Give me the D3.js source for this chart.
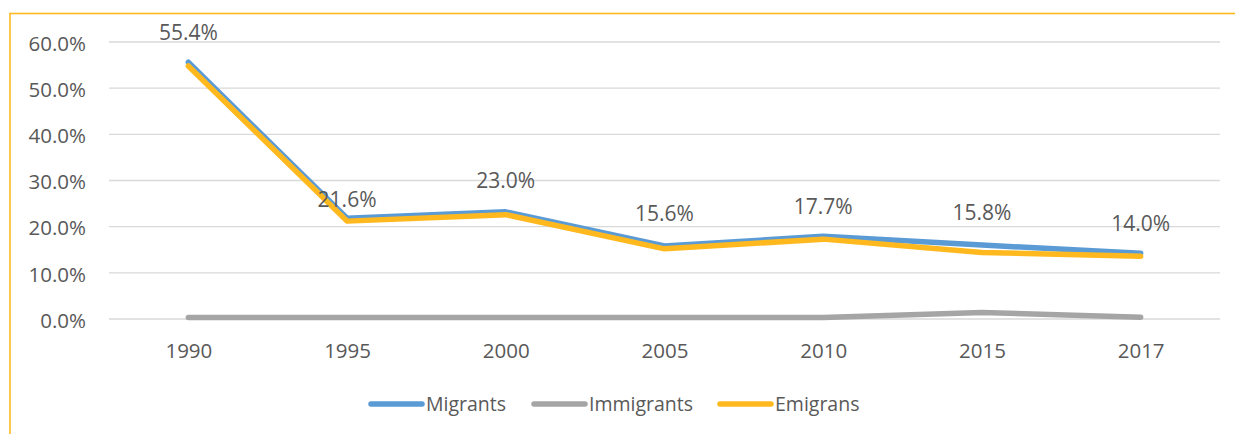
<!DOCTYPE html>
<html><head><meta charset="utf-8">
<script src="https://cdn.jsdelivr.net/npm/d3@7"></script>
<style>
html,body{margin:0;padding:0;background:#fff;overflow:hidden}
svg{display:block}
text{font-family:"Open Sans",sans-serif;fill:#595959}
</style></head>
<body><svg id="c" width="1235" height="434"></svg>
<script>
const years = ["1990","1995","2000","2005","2010","2015","2017"];
const migrants = [55.4, 21.6, 23.0, 15.6, 17.7, 15.8, 14.0];
const immigrants = [0.3, 0.3, 0.3, 0.3, 0.3, 1.4, 0.4];
const emigrans = [54.8, 21.2, 22.6, 15.2, 17.3, 14.4, 13.6];
const yTicks = [0, 10, 20, 30, 40, 50, 60];
const seriesNames = ["Migrants", "Immigrants", "Emigrans"];

const colors = {Migrants:"#5B9BD5", Immigrants:"#A5A5A5", Emigrans:"#FFB91F"};
const svg = d3.select("#c");

// outer border (chart area, cropped)
svg.append("rect").attr("x",10).attr("y",13.5).attr("width",1400).attr("height",600)
  .attr("fill","none").attr("stroke","#FFB91F").attr("stroke-width",1.6);

const x = d3.scalePoint().domain(years).range([109,1220]).padding(0.5);
const y = d3.scaleLinear().domain([0,60]).range([319,42]);

// gridlines
svg.append("g").selectAll("line").data(yTicks).join("line")
  .attr("x1",109).attr("x2",1220).attr("y1",d=>y(d)).attr("y2",d=>y(d))
  .attr("stroke","#D9D9D9").attr("stroke-width",1.3);

// y axis
const yAxis = d3.axisLeft(y).tickValues(yTicks).tickSize(0).tickPadding(0)
  .tickFormat(d=>d.toFixed(1)+"%");
const gy = svg.append("g").attr("transform","translate(86,1)").call(yAxis);
gy.select(".domain").remove();
gy.selectAll("text").attr("font-size",20.5).attr("font-family","Open Sans").attr("fill","#595959").attr("dy","0.35em");

// x axis
const xAxis = d3.axisBottom(x).tickSize(0).tickPadding(0);
const gx = svg.append("g").attr("transform","translate(0,351)").call(xAxis);
gx.select(".domain").remove();
gx.selectAll("text").attr("font-size",20.5).attr("font-family","Open Sans").attr("fill","#595959").attr("dy","0.35em");

const line = d3.line().x((d,i)=>x(years[i])).y(d=>y(d));
const data = {Migrants:migrants, Immigrants:immigrants, Emigrans:emigrans};
["Immigrants","Migrants","Emigrans"].forEach(n=>{
  svg.append("path").datum(data[n]).attr("d",line).attr("fill","none")
    .attr("stroke",colors[n]).attr("stroke-width",5.5)
    .attr("stroke-linecap","round").attr("stroke-linejoin","round")
    .attr("transform", n==="Migrants" ? "translate(0,-1)" : null);
});

// data labels (Migrants)
const labelDy = [-31,-20,-32,-33,-31,-33,-31];
svg.append("g").selectAll("text").data(migrants).join("text")
  .attr("x",(d,i)=>x(years[i])).attr("y",(d,i)=>y(d)+labelDy[i])
  .attr("text-anchor","middle").attr("dy","0.35em").attr("font-size",21)
  .text(d=>d.toFixed(1)+"%");

// legend
const legX = [371, 534, 720];
const lg = svg.append("g");
seriesNames.forEach((n,i)=>{
  lg.append("line").attr("x1",legX[i]).attr("x2",legX[i]+51).attr("y1",404).attr("y2",404)
    .attr("stroke",colors[n]).attr("stroke-width",5.5).attr("stroke-linecap","round");
  lg.append("text").attr("x",legX[i]+55).attr("y",404).attr("dy","0.35em")
    .attr("font-size",19.5).text(n);
});
</script></body></html>
